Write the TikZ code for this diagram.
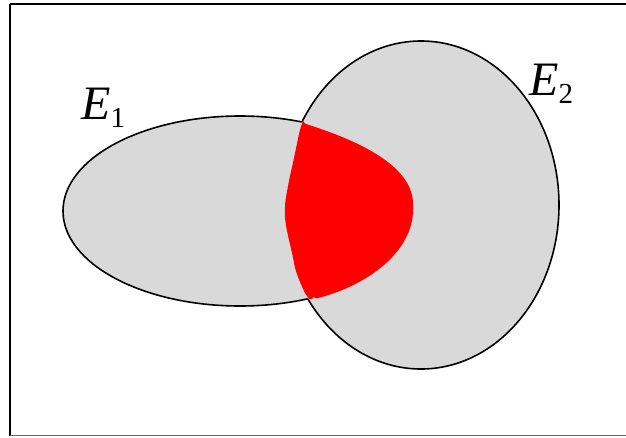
\documentclass[tikz,border=0pt]{standalone}
\usepackage{fontspec}
\setmainfont{Liberation Serif}
\tikzset{
  setfill/.style={fill=black!15},
  setline/.style={draw=black, line width=1.6pt},
  frameline/.style={draw=black, line width=1.5pt},
  setlabel/.style={inner sep=0pt, anchor=base west, font=\fontsize{48}{50}\selectfont\itshape},
}
\newcommand{\subsc}[1]{{\fontsize{29}{30}\selectfont\upshape\raisebox{-8.5pt}{#1}}}
\begin{document}
\begin{tikzpicture}[x=1pt, y=-1pt]
\useasboundingbox (0,0) rectangle (626,437);
% frame
\draw[frameline] (10,4) -- (640,4);
\draw[frameline] (10,4) -- (10,435.5);
\draw[draw=black!60, line width=1.5pt] (10,435.5) -- (640,435.5);
% fills
\fill[setfill] (240,211) ellipse [x radius=177, y radius=95];
\fill[setfill] (421,205) ellipse [x radius=138, y radius=164];
% outer outlines
\begin{scope}[even odd rule]
  \clip (-20,-20) rectangle (700,500) (421,205) ellipse [x radius=138, y radius=164];
  \draw[setline] (240,211) ellipse [x radius=177, y radius=95];
\end{scope}
\begin{scope}[even odd rule]
  \clip (-20,-20) rectangle (700,500) (240,211) ellipse [x radius=177, y radius=95];
  \draw[setline] (421,205) ellipse [x radius=138, y radius=164];
\end{scope}
% intersection region
\fill[red, rounded corners=3pt]
  (303,123) .. controls (340,135) and (413,160) .. (413,207)
  .. controls (413,250) and (370,285) .. (314,299)
  -- plot[smooth, tension=0.6] coordinates {(314,299) (307,296) (297,274) (292,253) (286,225) (285,207) (288,186) (294,158) (300,130) (303,123)}
  -- cycle;
% labels
\node[setlabel] (e1) at (81,119) {E\subsc{1}};
\node[setlabel] (e2) at (529,95) {E\subsc{2}};
\end{tikzpicture}
\end{document}
